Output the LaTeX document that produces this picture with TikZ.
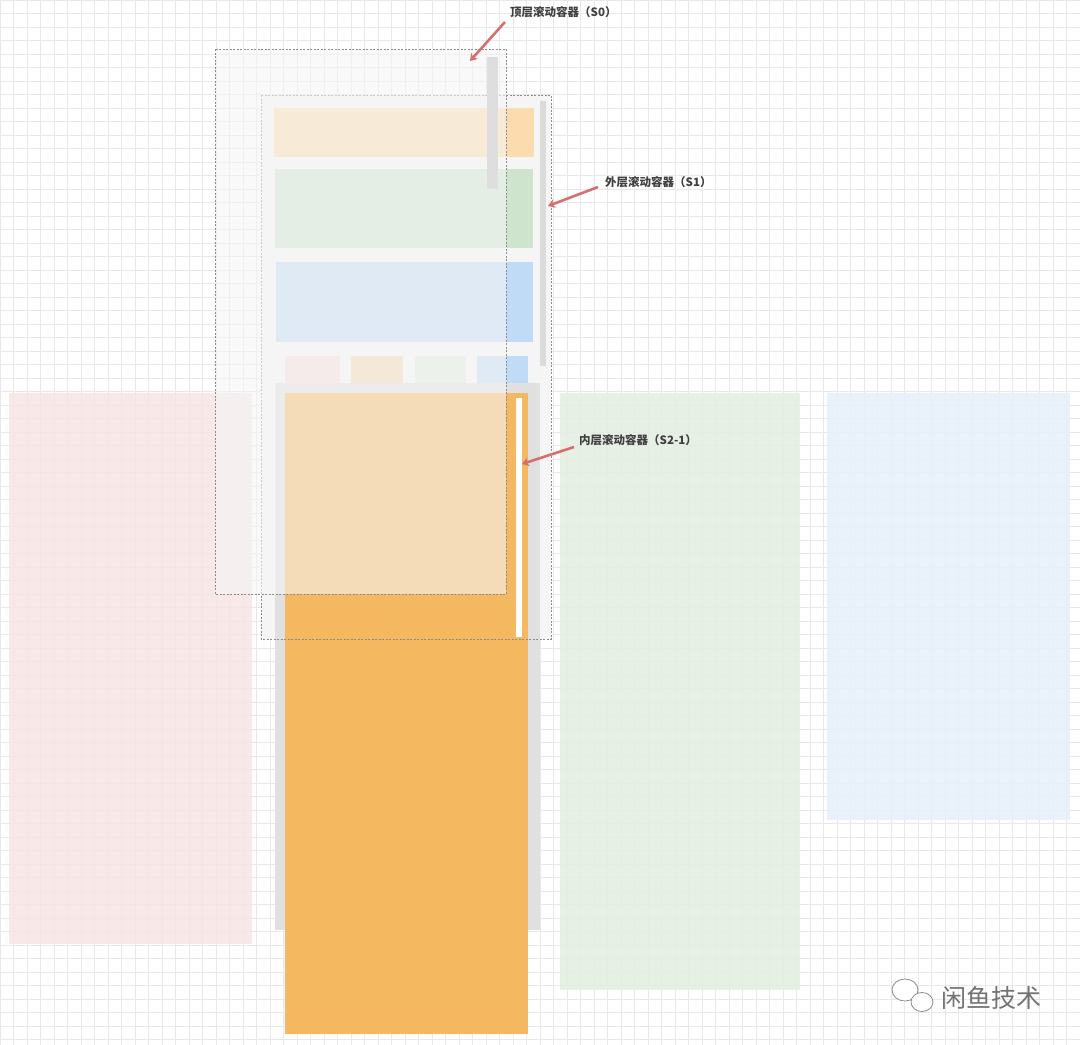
\documentclass[tikz,border=0pt]{standalone}
\usepackage{fontspec}
\newfontfamily\cjk{Noto Sans CJK SC}
\usetikzlibrary{arrows.meta}
\definecolor{gridc}{HTML}{E8E8E8}
\definecolor{pinkc}{HTML}{F8E4E4}
\definecolor{greenc}{HTML}{E3EEE1}
\definecolor{bluec}{HTML}{E6F0FB}
\definecolor{orangec}{HTML}{F4B860}
\definecolor{arrowc}{HTML}{D4706E}
\definecolor{stripo}{HTML}{FBDCAE}
\definecolor{stripg}{HTML}{CFE4CC}
\definecolor{stripb}{HTML}{C0DBF6}
\definecolor{tilep}{HTML}{F5DEDE}
\definecolor{tileo}{HTML}{F3D5A8}
\definecolor{tileg}{HTML}{E2EDE0}
\tikzset{
  tag/.style={anchor=west, font=\cjk\bfseries\fontsize{11.5}{13}\selectfont, text=black!75, inner sep=1pt},
  pointer/.style={draw=arrowc, line width=2.6pt, -{Stealth[length=7pt,width=9pt]}},
  frame/.style={draw=black!45, line width=0.4pt, dash pattern=on 2pt off 1.5pt}
}
\begin{document}
\begin{tikzpicture}[x=1pt, y=-1pt]
  \useasboundingbox (0,0) rectangle (1080,1045);
  % Grid
  \fill[white] (0,0) rectangle (1080,1045);
  \foreach \k in {0,...,80} {
    \draw[gridc, line width=0.4pt] (13.5*\k,0) -- (13.5*\k,1045);
  }
  \foreach \k in {0,...,78} {
    \draw[gridc, line width=0.4pt] (0,13.5*\k) -- (1080,13.5*\k);
  }

  % Side panels
  \fill[pinkc, opacity=0.85] (9,393) rectangle (252,944);
  \fill[greenc, opacity=0.85] (560,393) rectangle (800,990);
  \fill[bluec, opacity=0.85] (827,393) rectangle (1070,820);

  % Outer container S1 contents
  \fill[black!4] (261,95) rectangle (551,639);
  \fill[stripo] (274,108) rectangle (534,157);
  \fill[stripg] (275,169) rectangle (533,248);
  \fill[stripb] (276,262) rectangle (533,342);
  \fill[tilep] (285,356) rectangle (340,383);
  \fill[tileo] (351,356) rectangle (403,383);
  \fill[tileg] (415,356) rectangle (466,383);
  \fill[stripb] (477,356) rectangle (528,383);
  \fill[black!14] (540,101) rectangle (546,366);

  % Inner container S2-1
  \fill[black!12] (275,383) rectangle (540,930);
  \fill[orangec] (285,393) rectangle (528,1034);
  \fill[white] (516,398) rectangle (522,637);
  \draw[frame] (261,95) rectangle (551,639);

  % Top container S0
  \fill[black!4, opacity=0.6] (215,49) rectangle (506,594);
  \draw[frame] (215,49) rectangle (506,594);
  \fill[black!13] (487,57) rectangle (498,189);

  % Labels
  \node[tag] (s0) at (509,12) {顶层滚动容器（S0）};
  \node[tag] (s1) at (604,182) {外层滚动容器（S1）};
  \node[tag] (s2) at (578,440) {内层滚动容器（S2-1）};
  \coordinate (s0tip) at (470,61);
  \coordinate (s1tip) at (548,206);
  \coordinate (s2tip) at (522,464);
  \draw[pointer] (505,22) -- (s0tip);
  \draw[pointer] (598,187) -- (s1tip);
  \draw[pointer] (574,447) -- (s2tip);

  % Watermark
  \draw[black!45, fill=white, line width=0.8pt] (905,990) ellipse (13 and 11);
  \draw[black!45, fill=white, line width=0.8pt] (922,1002) ellipse (11 and 9.5);
  \node[anchor=west, font=\cjk\fontsize{25}{28}\selectfont, text=black!55] (mark) at (938,998) {闲鱼技术};
\end{tikzpicture}
\end{document}
